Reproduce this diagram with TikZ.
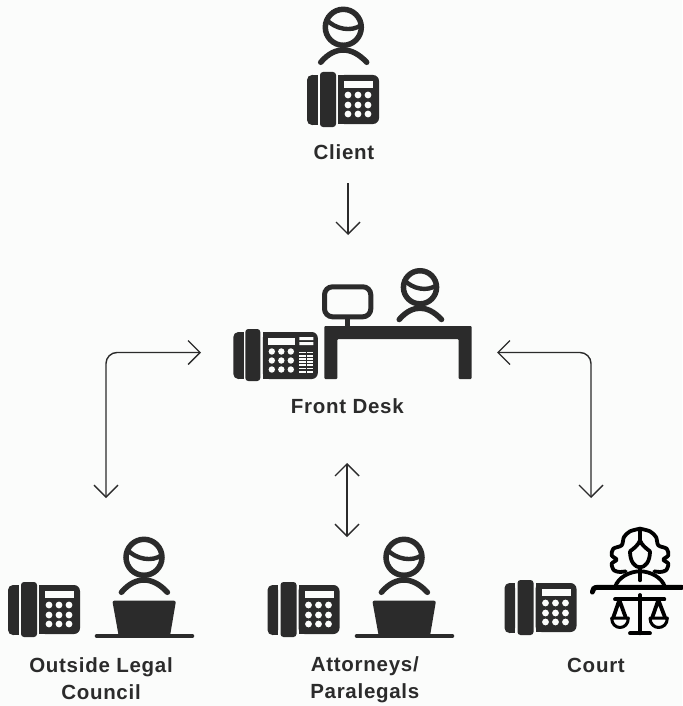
\documentclass[tikz,border=0pt]{standalone}
\usepackage{fontspec}
\setmainfont{Liberation Sans}[LetterSpace=3.5]
\usetikzlibrary{arrows.meta}
\definecolor{ink}{HTML}{2B2B2B}
\definecolor{paper}{HTML}{FBFCFB}
\tikzset{
	lbl/.style={font=\fontsize{20.5}{26.6}\selectfont\bfseries,text=ink,align=center,inner sep=0pt},
	conn/.style={draw=ink,line width=1.4pt,rounded corners=11pt},
	thick line/.style={draw=ink,line width=5.5pt,line cap=round},
	judge line/.style={draw=black,line width=3.8pt,line cap=round,line join=round},
	phone/.pic={
		\fill[ink,rounded corners=5pt] (0,3) rectangle (10.5,53);
		\fill[ink] (5,3) rectangle (10.5,53);
		\fill[ink,rounded corners=3pt] (13,0) rectangle (29,55);
		\fill[ink,rounded corners=6pt] (31,3) rectangle (72,52);
		\fill[ink] (31,3) rectangle (37,52);
		\fill[paper] (37,9) rectangle (66,16);
		\foreach \i in {41,51,61}
			\foreach \j in {23,33,42}
				\fill[paper] (\i,\j) circle(3.4pt);
	},
	deskphone/.pic={
		\fill[ink,rounded corners=5pt] (0,3) rectangle (10.5,50);
		\fill[ink] (5,3) rectangle (10.5,50);
		\fill[ink,rounded corners=3pt] (12,0) rectangle (27,52);
		\fill[ink,rounded corners=6pt] (29.5,3) rectangle (84.5,50);
		\fill[ink] (29.5,3) rectangle (36,50);
		\fill[paper] (35,9) rectangle (62,16);
		\foreach \i in {38.5,48,57.5}
			\foreach \j in {22.5,31.5,40.5}
				\fill[paper] (\i,\j) circle(3.2pt);
		\fill[paper] (66,8.2) rectangle (80,11) (66,13) rectangle (80,16);
		\foreach \j in {22.5,25.7,28.9,32.1,35.3,38.5,41.7}
			\fill[paper] (66,\j) rectangle (80,\j+1.9);
		\fill[ink] (72.3,21) rectangle (73.7,45);
	},
	agent/.pic={
		\draw[ink,line width=5.5pt] (0,0) circle(18pt);
		\draw[ink,line width=4.4pt] (-17.3,-8) .. controls (-8,2) and (8,5) .. (18,-2.3);
		\draw[thick line] (-22.6,35) .. controls (-15,26) and (-7,22.7) .. (0,22.7) .. controls (7,22.7) and (15,26) .. (23.4,35);
	},
	laptop/.pic={
		\fill[ink,rounded corners=2pt] (-31.7,600.7) -- (32,600.7) -- (26,636) -- (-25.3,636) -- cycle;
		\draw[draw=ink,line width=4.6pt,line cap=round] (-47,636) -- (48,636);
	}
}
\begin{document}
\begin{tikzpicture}[x=1pt,y=-1pt,>={Straight Barb[length=12pt,width=24pt]}]
	\fill[paper] (0,0) rectangle (682,706);
	\useasboundingbox (0,0) rectangle (682,706);
	% client
	\pic at (343.3,27.3) {agent};
	\pic at (307,72) {phone};
	\node[lbl] (client) at (344,152) {Client};
	% front desk
	\pic[scale=0.92] at (420,287.3) {agent};
	\pic at (233.3,329) {deskphone};
	\fill[ink,rounded corners=1pt] (324.3,379) -- (324.3,326) -- (471.7,326) -- (471.7,379) -- (458.7,379) -- (458.7,339) -- (337.3,339) -- (337.3,379) -- cycle;
	\draw[ink,line width=5pt,rounded corners=8pt] (324.5,286.8) rectangle (370.8,316.8);
	\draw[ink,line width=5pt] (347.7,317) -- (347.7,326);
	\node[lbl] (frontdesk) at (347.3,406) {Front Desk};
	% outside legal council
	\pic at (8,582) {phone};
	\pic at (144,557.3) {agent};
	\pic at (144,0) {laptop};
	\node[lbl] (outside) at (101,678.5) {Outside Legal\\Council};
	% attorneys
	\pic at (267.5,582) {phone};
	\pic at (404,557.3) {agent};
	\pic at (404,0) {laptop};
	\node[lbl] (attorneys) at (364.8,680) {Attorneys/\\Paralegals};
	% court
	\pic at (504.5,580) {phone};
	\begin{scope}[shift={(585,522)},x=0.3333pt,y=-0.3333pt]
		\draw[judge line] plot[smooth] coordinates {(165,20) (195,28) (213,45) (220,70) (245,80) (250,100) (235,113) (250,125) (243,145) (225,150) (208,148)};
		\draw[judge line] plot[smooth] coordinates {(165,20) (135,28) (117,45) (110,70) (85,80) (80,100) (95,113) (80,125) (87,145) (105,150) (122,148)};
		\draw[judge line] (165,20) -- (165,55);
		\draw[judge line] (135,88) .. controls (145,80) and (160,70) .. (165,55) .. controls (170,70) and (185,80) .. (195,88);
		\draw[judge line] (135,88) .. controls (135,120) and (150,136) .. (165,136) .. controls (180,136) and (195,120) .. (195,88);
		\draw[judge line] (165,136) -- (165,175);
		\draw[judge line] (90,195) .. controls (100,165) and (135,148) .. (165,148) .. controls (195,148) and (230,165) .. (240,195);
	\end{scope}
	\begin{scope}[shift={(585,580)},x=0.3333pt,y=-0.3333pt]
		\draw[draw=black,line width=5pt,line cap=round] (22,36) .. controls (22,27) and (28,22) .. (38,22) -- (291,22);
		\draw[judge line] (165,45) -- (165,160) (135,160) -- (195,160) (90,58) -- (238,58);
		\draw[judge line] (85,112) -- (103,60) -- (122,112);
		\draw[judge line] (220,60) -- (202,112) (220,60) -- (240,112);
		\draw[judge line,line width=3pt] (80,114) -- (130,114) .. controls (130,152) and (80,152) .. (80,114);
		\draw[judge line,line width=3pt] (195,114) -- (247,114) .. controls (247,152) and (195,152) .. (195,114);
	\end{scope}
	\node[lbl] (court) at (596,665) {Court};
	% connectors
	\coordinate (desktop) at (348,235);
	\coordinate (clientout) at (348,183);
	\coordinate (deskleft) at (201,352.5);
	\coordinate (deskright) at (497,352.5);
	\coordinate (outsidein) at (106,498);
	\coordinate (courtin) at (591,498);
	\coordinate (deskdown) at (347,463);
	\coordinate (attorneysin) at (347,537);
	\draw[conn,->] (clientout) -- (desktop);
	\draw[conn,<->] (deskleft) -| (outsidein);
	\draw[conn,<->] (deskright) -| (courtin);
	\draw[conn,<->] (deskdown) -- (attorneysin);
\end{tikzpicture}
\end{document}
